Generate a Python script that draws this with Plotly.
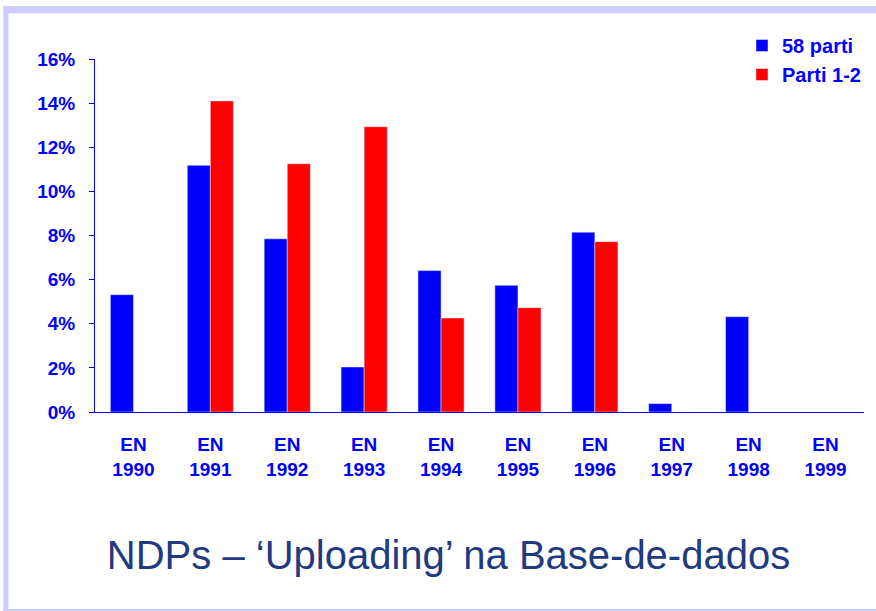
import plotly.graph_objects as go

years = ["1990", "1991", "1992", "1993", "1994", "1995", "1996", "1997", "1998", "1999"]
categories = ["EN<br>" + y for y in years]
series_58 = [5.32, 11.18, 7.85, 2.04, 6.41, 5.74, 8.15, 0.38, 4.32, None]
series_12 = [None, 14.1, 11.25, 12.93, 4.26, 4.73, 7.72, None, None, None]
y_ticks = [0, 2, 4, 6, 8, 10, 12, 14, 16]
y_tick_text = [str(v) + "%" for v in y_ticks]

W, H = 876, 611
L, R, T, B = 95, 11, 59, 199
pw, ph = W - L - R, H - T - B

def px(x):
    return (x - L) / pw

def py(y):
    return (H - B - y) / ph

FONT = "Liberation Sans, Arial, sans-serif"
BLUE = "#0000FF"
RED = "#FF0000"
FRAME = "#CCCCFF"

fig = go.Figure()
fig.add_trace(go.Bar(x=categories, y=series_58, name="58 parti", marker_color=BLUE))
fig.add_trace(go.Bar(x=categories, y=series_12, name="Parti 1-2", marker_color=RED))

shapes = [
    dict(type="rect", xref="paper", yref="paper", x0=px(3.3), x1=px(900), y0=py(6), y1=py(13.3),
         fillcolor=FRAME, line_width=0, layer="below"),
    dict(type="rect", xref="paper", yref="paper", x0=px(3.3), x1=px(8.3), y0=py(6), y1=py(620),
         fillcolor=FRAME, line_width=0, layer="below"),
    dict(type="rect", xref="paper", yref="paper", x0=px(3.3), x1=px(900), y0=py(609), y1=py(620),
         fillcolor=FRAME, line_width=0, layer="below"),
]

fig.update_layout(
    width=W, height=H,
    margin=dict(l=L, r=R, t=T, b=B, pad=0),
    paper_bgcolor="white", plot_bgcolor="white",
    barmode="group", bargap=0.4, bargroupgap=0,
    font=dict(family=FONT, color=BLUE),
    shapes=shapes,
    showlegend=True,
    legend=dict(x=px(742), y=py(26), xanchor="left", yanchor="top",
                font=dict(family=FONT, size=20, color=BLUE, weight="bold"),
                bgcolor="rgba(0,0,0,0)", traceorder="normal"),
    title=dict(text="NDPs – ‘Uploading’ na Base-de-dados", xref="container", yref="container",
               x=448.5 / W, y=1 - 555 / H, xanchor="center", yanchor="middle",
               font=dict(family=FONT, size=40, color="#1F3A80")),
    xaxis=dict(showline=True, linecolor=BLUE, linewidth=1, ticks="", showgrid=False,
               tickfont=dict(family=FONT, size=19, color=BLUE, weight="bold"),
               ticklabelstandoff=15, zeroline=False),
    yaxis=dict(range=[0, 16], tickvals=y_ticks, ticktext=y_tick_text, showline=True, linecolor=BLUE,
               linewidth=1, ticks="outside", ticklen=5, tickcolor=BLUE, showgrid=False,
               zeroline=False, tickfont=dict(family=FONT, size=19, color=BLUE, weight="bold"),
               ticklabelstandoff=10),
)

fig.write_html("out.html", post_script="document.body.style.margin='0';",
               config={"displayModeBar": False})
